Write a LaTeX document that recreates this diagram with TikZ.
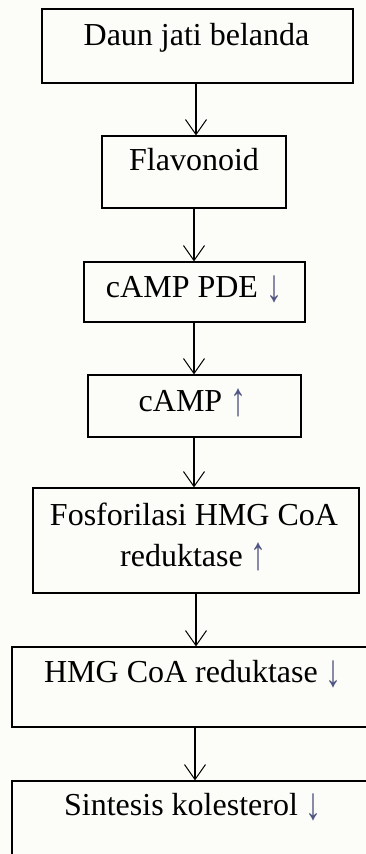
\documentclass[tikz,border=0pt]{standalone}
\usepackage{fontspec}
\setmainfont{Liberation Serif}
\usetikzlibrary{arrows.meta}
\definecolor{bgc}{RGB}{252,252,248}
\definecolor{arrc}{RGB}{80,85,130}
\newcommand\myDown{\textcolor{arrc}{\raisebox{-6pt}{\resizebox*{\width}{27pt}{\raisebox{\depth}{↓}}}}}
\newcommand\myUp{\textcolor{arrc}{\raisebox{-5pt}{\resizebox*{\width}{28pt}{\raisebox{\depth}{↑}}}}}
\begin{document}
\begin{tikzpicture}[x=1pt,y=-1pt,
  box/.style={draw, line width=1.2pt, rectangle, inner sep=0pt},
  lbl/.style={anchor=base, inner sep=0pt, font=\fontsize{32}{36}\selectfont},
  arr/.style={line width=1.1pt, -{Straight Barb[length=15pt,width=21pt,line width=1pt]}}]
\fill[bgc] (0,0) rectangle (366,854);
\useasboundingbox (0,0) rectangle (366,854);
\clip (0,0) rectangle (366,854);
\node[box, minimum width=311pt, minimum height=74pt] (b1) at (197.5,46) {};
\node[box, minimum width=184pt, minimum height=72pt] (b2) at (194,172) {};
\node[box, minimum width=221pt, minimum height=60pt] (b3) at (194.5,292) {};
\node[box, minimum width=213pt, minimum height=62pt] (b4) at (194.5,406) {};
\node[box, minimum width=326pt, minimum height=105pt] (b5) at (196,540.5) {};
\node[box, minimum width=360pt, minimum height=80pt] (b6) at (192,687) {};
\node[box, minimum width=360pt, minimum height=119pt] (b7) at (192,840.5) {};
\node[lbl] (t1) at (196.5,45) {Daun jati belanda};
\node[lbl] (t2) at (194,170) {Flavonoid};
\node[lbl] (t3) at (194,297) {cAMP PDE \myDown};
\node[lbl] (t4) at (192.5,411.5) {cAMP \myUp};
\node[lbl] (t5a) at (194,525) {Fosforilasi HMG CoA};
\node[lbl] (t5b) at (193.5,566) {reduktase \myUp};
\node[lbl] (t6) at (193,682) {HMG CoA reduktase \myDown};
\node[lbl] (t7) at (193,815) {Sintesis kolesterol \myDown};
\coordinate (x1) at (196,0);
\coordinate (x2) at (194,0);
\coordinate (x5) at (196,0);
\coordinate (x6) at (195,0);
\draw[arr] (x1 |- b1.south) -- (x1 |- b2.north);
\draw[arr] (x2 |- b2.south) -- (x2 |- b3.north);
\draw[arr] (x2 |- b3.south) -- (x2 |- b4.north);
\draw[arr] (x2 |- b4.south) -- (x2 |- b5.north);
\draw[arr] (x5 |- b5.south) -- (x5 |- b6.north);
\draw[arr] (x6 |- b6.south) -- (x6 |- b7.north);
\end{tikzpicture}
\end{document}
